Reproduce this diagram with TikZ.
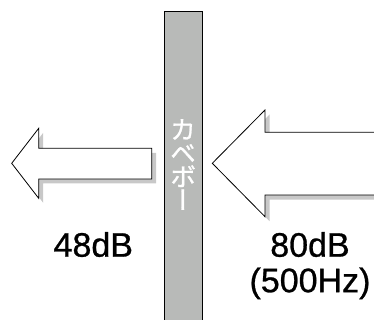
\documentclass[tikz,border=0pt]{standalone}
\usepackage{fontspec}
\setmainfont{Liberation Sans}
\newfontfamily\levelfont[FakeBold=0.8]{Liberation Sans}
\newfontfamily\jpfont[RawFeature=+vert, FakeBold=1]{Noto Sans CJK JP}
\usepackage{tikz}

\definecolor{wallgray}{RGB}{184,186,184}
\definecolor{shadowgray}{RGB}{200,200,200}

\tikzset{
  wall/.style={draw, fill=wallgray, line width=.8pt},
  soundarrow/.style={draw, fill=white, line width=.8pt, line join=miter},
  arrowshadow/.style={fill=shadowgray},
  level/.style={font=\levelfont\fontsize{34}{35.5}\selectfont, align=center},
  walltext/.style={text=white, font=\jpfont\fontsize{26}{23.5}\selectfont, align=center}
}

\begin{document}
\begin{tikzpicture}[x=1pt, y=-1pt]
    \useasboundingbox (0, 0) rectangle (374, 320);
    \clip (0, 0) rectangle (374, 320);

    % wall
    \draw [wall] (164.3, 11.7) rectangle (202.3, 330);
    \node [walltext] (wname) at (183, 164.5) {カ\\ベ\\ボ\\ー};

    % transmitted sound (left)
    \fill [arrowshadow, shift={(4.5, 4.5)}] (11.7, 163.3) -- (38.7, 128.3) -- (38.7, 148.3)
        -- (151.7, 148.3) -- (151.7, 179) -- (38.7, 179) -- (38.7, 198.3) -- cycle;
    \draw [soundarrow] (11.7, 163.3) -- (38.7, 128.3) -- (38.7, 148.3)
        -- (151.7, 148.3) -- (151.7, 179) -- (38.7, 179) -- (38.7, 198.3) -- cycle;

    % incident sound (right)
    \fill [arrowshadow, shift={(4.5, 4.5)}] (212.3, 163.3) -- (265, 110) -- (265, 132.3)
        -- (390, 132.3) -- (390, 195) -- (265, 195) -- (265, 216.7) -- cycle;
    \draw [soundarrow] (212.3, 163.3) -- (265, 110) -- (265, 132.3)
        -- (390, 132.3) -- (390, 195) -- (265, 195) -- (265, 216.7) -- cycle;

    % levels
    \node [level, anchor=base] (out) at (93.3, 256.7) {48dB};
    \node [level, anchor=base] (in) at (310, 292.2) {80dB\\(500Hz)};
\end{tikzpicture}
\end{document}
